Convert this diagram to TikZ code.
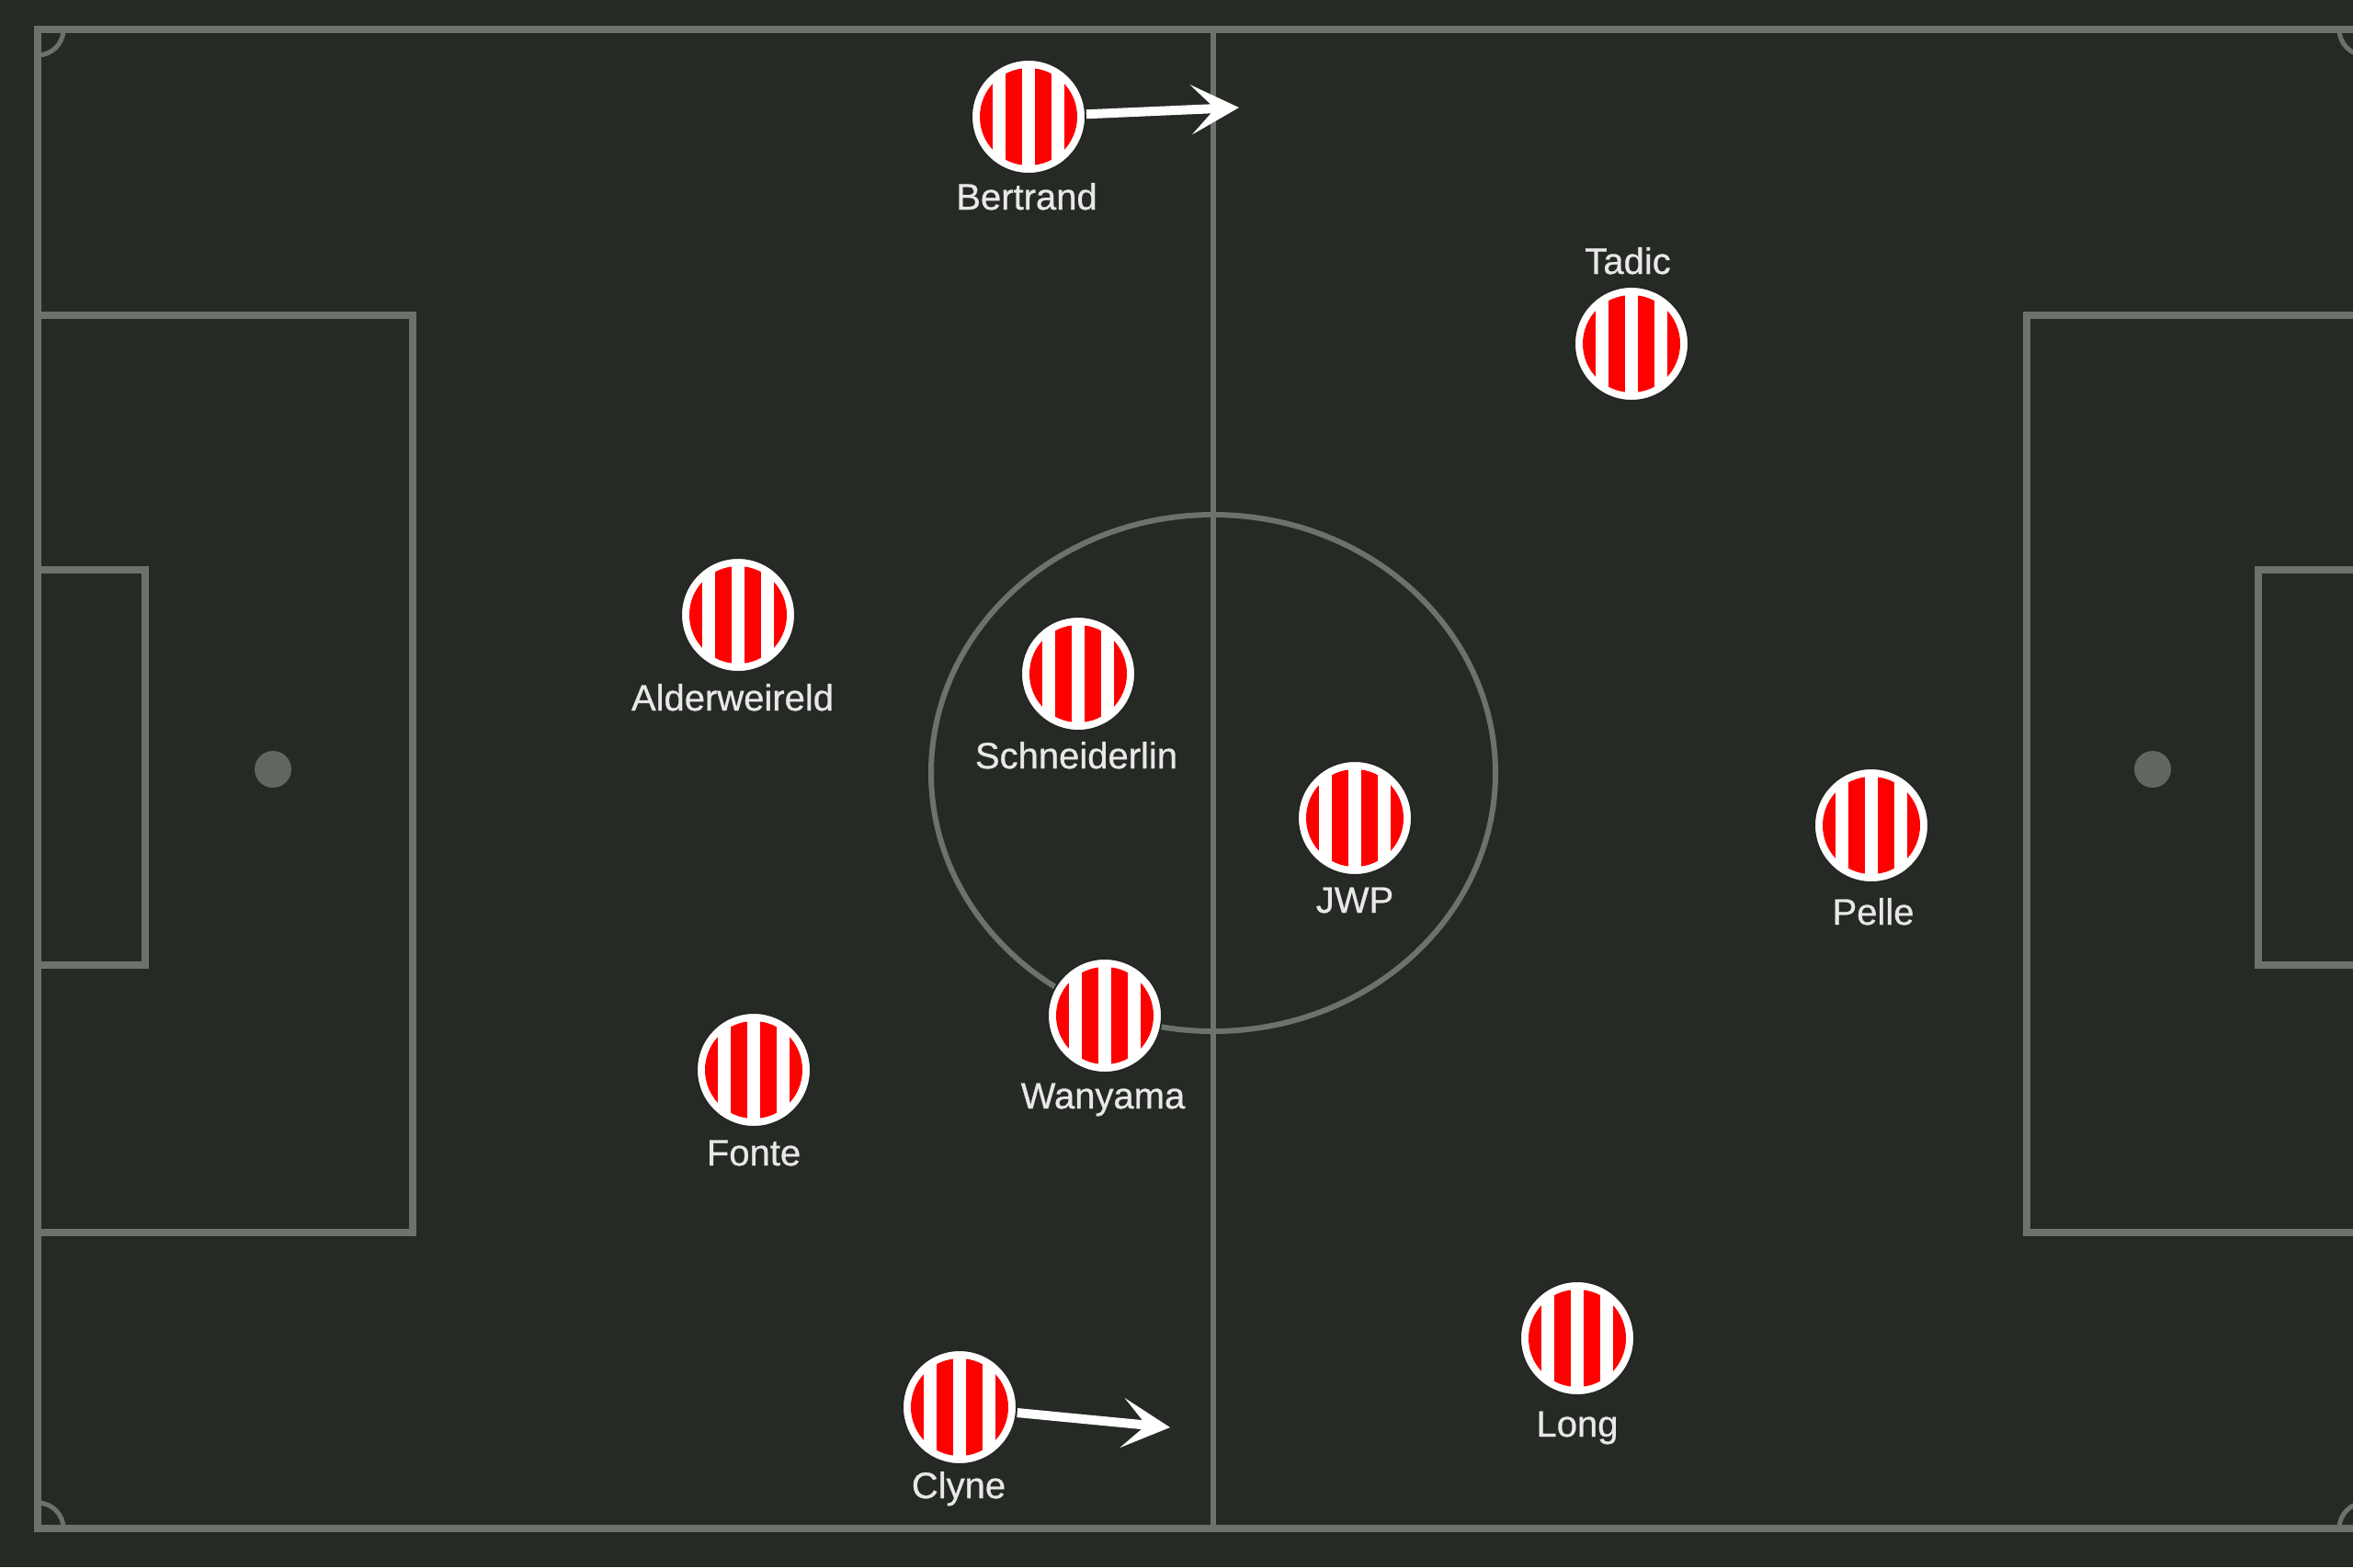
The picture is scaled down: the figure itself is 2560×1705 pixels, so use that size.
\documentclass[tikz,border=0pt]{standalone}
\usepackage{fontspec}
\setmainfont{Liberation Sans}
\newfontfamily\lblfont{Liberation Sans}[FakeBold=0.7]
\usetikzlibrary{arrows.meta}
\definecolor{pitchbg}{RGB}{38,42,37}
\definecolor{pline}{RGB}{108,114,108}
\definecolor{pspot}{RGB}{96,102,96}
\definecolor{kitred}{RGB}{255,0,0}
\definecolor{lbltext}{RGB}{232,232,232}
\tikzset{
  pitchline/.style={draw=pline, line width=4pt},
  thinline/.style={draw=pline, line width=3pt},
  cornerline/.style={draw=pline, line width=2.5pt},
  player/.style={circle, minimum size=62pt, inner sep=0pt, fill=white,
    draw=black!85, line width=1pt,
    path picture={
      \begin{scope}[shift={(path picture bounding box.center)}]
        \clip (0,0) circle (26.5pt);
        \foreach \dx in {-48,-16,16,48}{
          \fill[kitred] (\dx-9,-70) rectangle (\dx+9,70);
        }
      \end{scope}
    }},
  lbl/.style={anchor=base, text=lbltext, inner sep=0pt,
    font=\lblfont\fontsize{20pt}{24pt}\selectfont},
  mv/.style={draw=white, line width=5pt,
    -{Stealth[length=26pt, width=27pt, inset=13pt]}}
}
\begin{document}
\begin{tikzpicture}[x=0.5pt, y=-0.5pt]
  \useasboundingbox (0,0) rectangle (2560,1705);
  \clip (0,0) rectangle (2560,1705);
  \fill[pitchbg] (0,0) rectangle (2560,1705);
  % pitch
  \path[pitchline] (41,32) rectangle (2573,1663);
  \path[thinline] (1320,32) -- (1320,1663);
  \path[thinline] (1320,841) ellipse [x radius=307, y radius=281];
  % left boxes
  \path[pitchline] (41,343) -- (449,343) -- (449,1341) -- (41,1341);
  \path[pitchline] (41,620) -- (158,620) -- (158,1050) -- (41,1050);
  % right boxes
  \path[pitchline] (2573,343) -- (2205,343) -- (2205,1341) -- (2573,1341);
  \path[pitchline] (2573,620) -- (2457,620) -- (2457,1050) -- (2573,1050);
  % spots
  \fill[pspot] (297,837) circle [radius=20];
  \fill[pspot] (2342,837) circle [radius=20];
  % corner arcs
  \path[cornerline] (41,60) arc[start angle=90, end angle=0, radius=28];
  \path[cornerline] (41,1635) arc[start angle=-90, end angle=0, radius=28];
  \path[cornerline] (2545,32) arc[start angle=180, end angle=90, radius=28];
  \path[cornerline] (2545,1663) arc[start angle=180, end angle=270, radius=28];

  % players
  \node[player] (bertrand) at (1119,127) {};
  \node[player] (tadic) at (1775,374) {};
  \node[player] (alder) at (803,669) {};
  \node[player] (schneid) at (1173,733) {};
  \node[player] (jwp) at (1474,890) {};
  \node[player] (pelle) at (2036,898) {};
  \node[player] (wanyama) at (1202,1105) {};
  \node[player] (fonte) at (820,1164) {};
  \node[player] (long) at (1716,1456) {};
  \node[player] (clyne) at (1044,1531) {};

  % labels
  \node[lbl] (bertrandL) at (1117,228) {Bertrand};
  \node[lbl] (tadicL) at (1771,298) {Tadic};
  \node[lbl] (alderL) at (797,773) {Alderweireld};
  \node[lbl] (schneidL) at (1171,836) {Schneiderlin};
  \node[lbl] (jwpL) at (1474,993) {JWP};
  \node[lbl] (pelleL) at (2038,1006) {Pelle};
  \node[lbl] (wanyamaL) at (1200,1206) {Wanyama};
  \node[lbl] (fonteL) at (820,1268) {Fonte};
  \node[lbl] (longL) at (1716,1563) {Long};
  \node[lbl] (clyneL) at (1043,1630) {Clyne};

  % movement arrows
  \coordinate (bertrandTip) at (1348,117);
  \coordinate (clyneTip) at (1273,1553);
  \draw[mv] (bertrand) -- (bertrandTip);
  \draw[mv] (clyne) -- (clyneTip);
\end{tikzpicture}
\end{document}
